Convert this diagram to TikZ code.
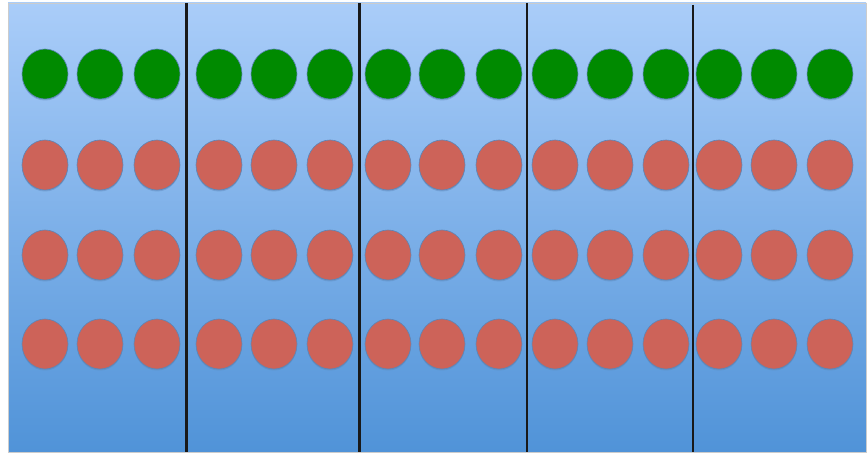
\documentclass[tikz,border=0pt]{standalone}
\usetikzlibrary{shadows,shapes.geometric}
\definecolor{bgtop}{HTML}{AACDF9}
\definecolor{bgbot}{HTML}{5093D8}
\definecolor{dotgreen}{HTML}{008A00}
\definecolor{dotred}{HTML}{CD6359}
\definecolor{dotedge}{HTML}{5B86B8}
\tikzset{
  dot/.style={ellipse, minimum width=46pt, minimum height=50pt, inner sep=0pt,
    draw=dotedge, line width=0.6pt,
    drop shadow={shadow xshift=0pt, shadow yshift=-1.5pt, fill=dotedge, opacity=0.45}},
  greendot/.style={dot, fill=dotgreen},
  reddot/.style={dot, fill=dotred},
  divider/.style={line width=2.4pt, draw=black!90}
}
\begin{document}
\begin{tikzpicture}[x=1pt,y=-1pt]
\useasboundingbox (0,0) rectangle (868,454);
\fill[white] (0,0) rectangle (868,454);
\shade[top color=bgtop, bottom color=bgbot, draw=black!20, line width=0.5pt] (8,3) rectangle (866,452);
\foreach \x [count=\i] in {45,100,157,219,274,330,388,442,499,555,610,666,719,774,830} {
  \node[greendot] (g\i) at (\x,74) {};
  \node[reddot] (ra\i) at (\x,165) {};
  \node[reddot] (rb\i) at (\x,255) {};
  \node[reddot] (rc\i) at (\x,344) {};
}
\draw[divider] (186.5,3) -- (186.5,452);
\draw[divider] (359.5,3) -- (359.5,452);
\draw[divider] (527,3) -- (527,452);
\draw[divider] (693,5) -- (693,452);
\end{tikzpicture}
\end{document}
